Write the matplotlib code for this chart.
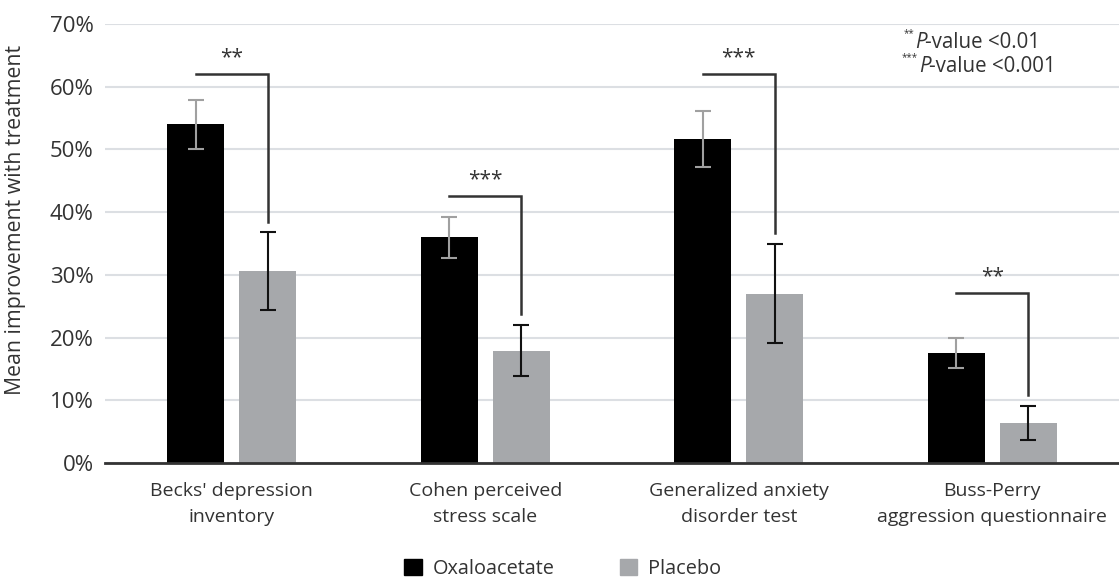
import numpy as np
import matplotlib
matplotlib.use("Agg")
import matplotlib.pyplot as plt
from matplotlib.patches import Patch

plt.rcParams['font.family'] = ['Open Sans', 'DejaVu Sans']

categories = ["Becks' depression\ninventory", "Cohen perceived\nstress scale",
              "Generalized anxiety\ndisorder test", "Buss-Perry\naggression questionnaire"]
oxalo = [54.0, 36.0, 51.7, 17.6]
oxalo_err = [3.9, 3.25, 4.5, 2.4]
placebo = [30.6, 17.9, 27.0, 6.4]
placebo_err = [6.2, 4.1, 7.9, 2.7]
stars = ["**", "***", "***", "**"]
bracket_y = [62.0, 42.6, 62.0, 27.1]
yticks = [0, 10, 20, 30, 40, 50, 60, 70]
pval_stars = ["**", "***"]
pval_text = ["-value <0.01", "-value <0.001"]

W, H = 1119, 581
fig = plt.figure(figsize=(W / 100, H / 100), dpi=100)
ax = fig.add_axes([0.0938, 0.2031, 0.9062, 0.7556])

x = np.arange(len(categories))
w = 0.225
off = 0.142
txt = '#333333'

ax.bar(x - off, oxalo, w, color='black', zorder=3)
ax.bar(x + off, placebo, w, color='#a6a8ab', zorder=3)
ax.errorbar(x - off, oxalo, yerr=oxalo_err, fmt='none', ecolor='#a0a0a0',
            elinewidth=1.5, capsize=6, capthick=1.5, zorder=4)
ax.errorbar(x + off, placebo, yerr=placebo_err, fmt='none', ecolor='#111111',
            elinewidth=1.5, capsize=6, capthick=1.5, zorder=4)

# significance brackets
for i in range(len(categories)):
    yb = bracket_y[i]
    yend = placebo[i] + placebo_err[i] + 1.7
    ax.plot([x[i] - off, x[i] + off, x[i] + off], [yb, yb, yend],
            color='#333333', lw=1.8, solid_joinstyle='miter', zorder=5)
    ax.text(x[i], yb + 0.9, stars[i], ha='center', va='bottom',
            fontsize=15, color=txt)

ax.set_xlim(-0.5, 3.5)
ax.set_ylim(0, 70)
ax.set_yticks(yticks)
ax.set_yticklabels([f"{t}%" for t in yticks], fontsize=16, color=txt)
ax.set_xticks(x)
ax.set_xticklabels(categories, fontsize=14, color=txt, linespacing=1.55)
ax.tick_params(axis='both', length=0)
ax.tick_params(axis='y', pad=8)
ax.tick_params(axis='x', pad=14)
ax.yaxis.grid(True, color='#dcdfe3', lw=1.5, zorder=0)
ax.set_axisbelow(True)
for s in ['top', 'right', 'left']:
    ax.spines[s].set_visible(False)
ax.spines['bottom'].set_color('#333333')
ax.spines['bottom'].set_linewidth(2)
ax.spines['bottom'].set_zorder(6)

fig.text(16 / W, 1 - 220 / H, 'Mean improvement with treatment', rotation=90,
         ha='center', va='center', fontsize=15.3, color=txt)

# p-value key, top right
for k, (st, tx) in enumerate(zip(pval_stars, pval_text)):
    yc = 1 - (42 + 24 * k) / H
    px = 915 + 4 * k
    fig.text((px - 1) / W, yc + 8 / H, st, fontsize=7, color=txt,
             ha='right', va='center')
    fig.text(px / W, yc, 'P', fontsize=14.8, color=txt, ha='left', va='center',
             style='italic')
    fig.text((px + 10) / W, yc, tx, fontsize=14.8, color=txt, ha='left', va='center')

handles = [Patch(color='black', label='Oxaloacetate'),
           Patch(color='#a6a8ab', label='Placebo')]
fig.legend(handles=handles, loc='center', bbox_to_anchor=(0.503, 0.021), ncol=2,
           frameon=False, fontsize=14.3, handlelength=0.9, handleheight=0.9,
           columnspacing=3.25, handletextpad=0.55, labelcolor=txt)

fig.savefig('out.png', dpi=100)
